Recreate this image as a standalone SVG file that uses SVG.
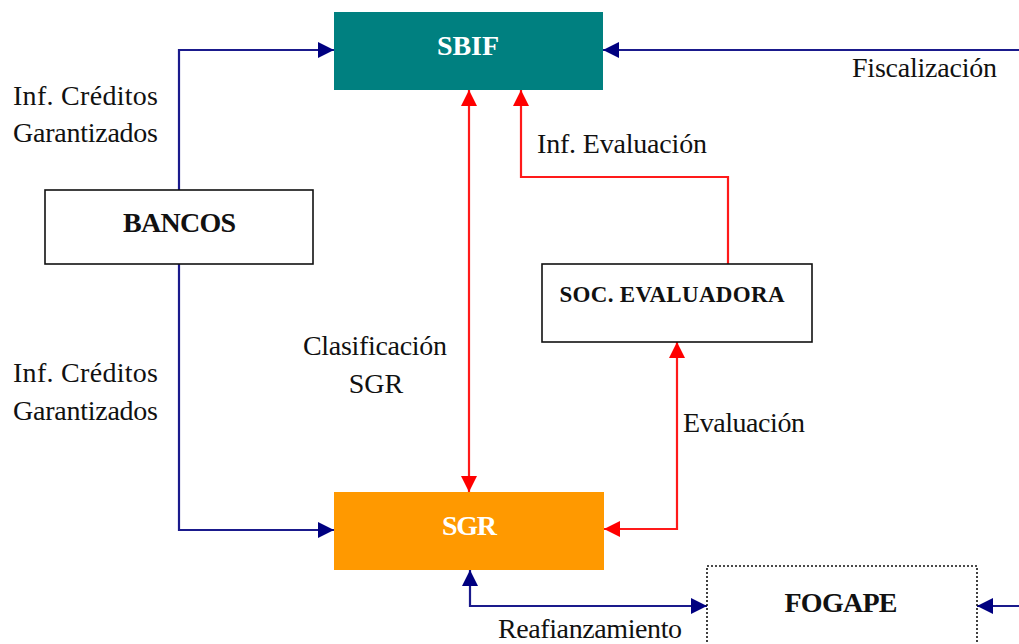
<svg xmlns="http://www.w3.org/2000/svg" width="1019" height="644" viewBox="0 0 1019 644">
<defs>
<marker id="ab" markerUnits="userSpaceOnUse" markerWidth="16" markerHeight="16" refX="16" refY="8" orient="auto-start-reverse">
<path d="M0,0 L16,8 L0,16 z" fill="#000080"/>
</marker>
<marker id="ar" markerUnits="userSpaceOnUse" markerWidth="16" markerHeight="16" refX="16" refY="8" orient="auto-start-reverse">
<path d="M0,0 L16,8 L0,16 z" fill="#ff0000"/>
</marker>
</defs>
<rect width="1019" height="644" fill="#fff"/>

<g id="connectors" fill="none" stroke-width="2.2">
<g stroke="#1a1a8c">
<path d="M179,190 V50 H334" marker-end="url(#ab)"/>
<path d="M179,264 V530 H334" marker-end="url(#ab)"/>
<path d="M1019,50 H603" marker-end="url(#ab)"/>
<path d="M470,570 V606 H707" marker-start="url(#ab)" marker-end="url(#ab)"/>
<path d="M1019,606 H977" marker-end="url(#ab)"/>
</g>
<g stroke="#ff1a1a">
<path d="M469,90 V492" marker-start="url(#ar)" marker-end="url(#ar)"/>
<path d="M728,264 V177 H521 V90" marker-end="url(#ar)"/>
<path d="M677,342 V529 H604" marker-start="url(#ar)" marker-end="url(#ar)"/>
</g>
</g>

<g id="labels" font-family="Liberation Serif, serif" font-size="28" fill="#111">
<text x="13" y="105" textLength="145" lengthAdjust="spacing">Inf. Créditos</text>
<text x="13" y="142" textLength="145">Garantizados</text>
<text x="13" y="382" textLength="145" lengthAdjust="spacing">Inf. Créditos</text>
<text x="13" y="420" textLength="145">Garantizados</text>
<text x="852" y="77" textLength="145">Fiscalización</text>
<text x="537" y="153" textLength="170">Inf. Evaluación</text>
<text x="303" y="355" textLength="144">Clasificación</text>
<text x="376" y="393" text-anchor="middle">SGR</text>
<text x="683" y="432" textLength="122">Evaluación</text>
<text x="498" y="638" textLength="184">Reafianzamiento</text>
</g>

<g id="node-sbif" font-family="Liberation Serif, serif" font-size="28" font-weight="bold" text-anchor="middle">
<rect x="334" y="12" width="269" height="78" fill="#008080"/>
<text x="468" y="55" fill="#fff">SBIF</text>
</g>
<g id="node-bancos" font-family="Liberation Serif, serif" font-size="28" font-weight="bold" text-anchor="middle">
<rect x="45" y="190" width="268" height="74" fill="#fff" stroke="#111" stroke-width="1.6"/>
<text x="179.5" y="232" fill="#111" textLength="113">BANCOS</text>
</g>
<g id="node-soc" font-family="Liberation Serif, serif" font-size="23" font-weight="bold" text-anchor="middle">
<rect x="542" y="264" width="270" height="78" fill="#fff" stroke="#111" stroke-width="1.6"/>
<text x="672" y="302" fill="#111" textLength="225">SOC. EVALUADORA</text>
</g>
<g id="node-sgr" font-family="Liberation Serif, serif" font-size="28" font-weight="bold" text-anchor="middle">
<rect x="334" y="492" width="270" height="78" fill="#ff9900"/>
<text x="469.5" y="535" fill="#fff" textLength="55">SGR</text>
</g>
<g id="node-fogape" font-family="Liberation Serif, serif" font-size="28" font-weight="bold" text-anchor="middle">
<rect x="707" y="566" width="270" height="90" fill="#fff" stroke="#111" stroke-width="1.6" stroke-dasharray="2,2"/>
<text x="841" y="612" fill="#111" textLength="113">FOGAPE</text>
</g>
</svg>
